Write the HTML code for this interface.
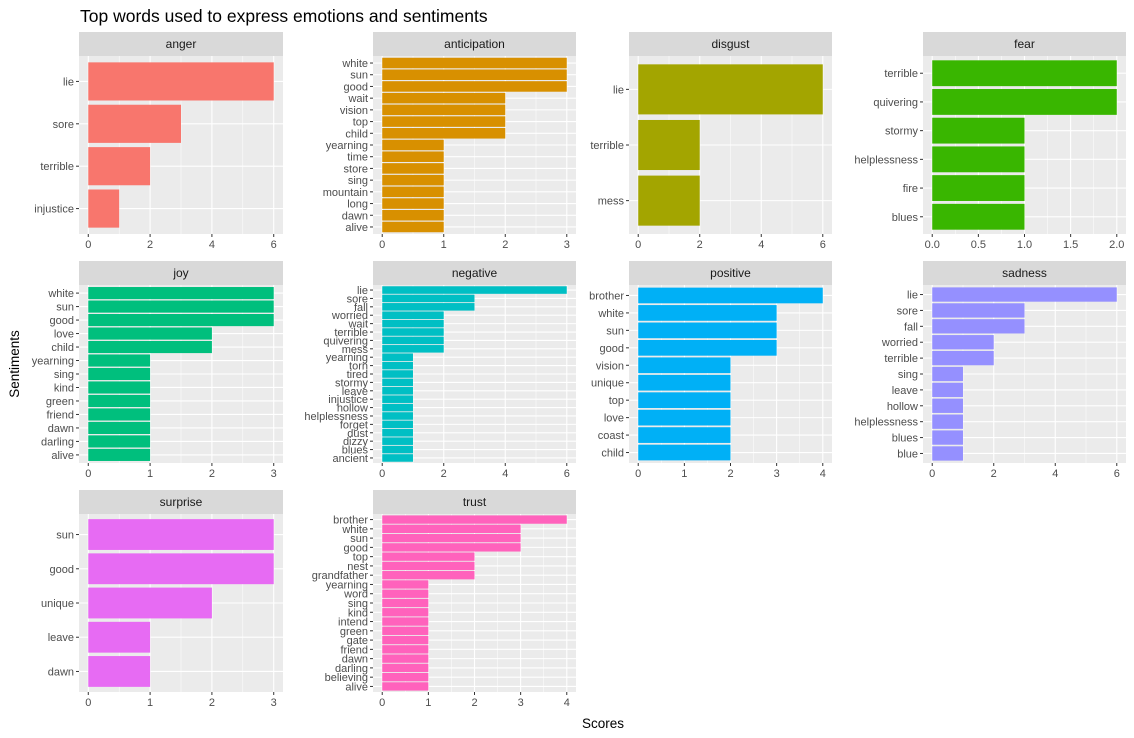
<!DOCTYPE html>
<html><head><meta charset="utf-8"><style>body{margin:0;background:#fff}svg{display:block;font-family:"Liberation Sans",Arial,sans-serif}</style></head>
<body>
<svg id="chart" width="1134" height="738"></svg>
<script>
const facets=["anger","anticipation","disgust","fear","joy","negative","positive","sadness","surprise","trust"];
const colors=["#F8766D","#D89000","#A3A500","#39B600","#00BF7D","#00BFC4","#00B0F6","#9590FF","#E76BF3","#FF62BC"];
const wordsAnger=["lie","sore","terrible","injustice"];
const valsAnger=[6,3,2,1];
const wordsAnticipation=["white","sun","good","wait","vision","top","child","yearning","time","store","sing","mountain","long","dawn","alive"];
const valsAnticipation=[3,3,3,2,2,2,2,1,1,1,1,1,1,1,1];
const wordsDisgust=["lie","terrible","mess"];
const valsDisgust=[6,2,2];
const wordsFear=["terrible","quivering","stormy","helplessness","fire","blues"];
const valsFear=[2,2,1,1,1,1];
const wordsJoy=["white","sun","good","love","child","yearning","sing","kind","green","friend","dawn","darling","alive"];
const valsJoy=[3,3,3,2,2,1,1,1,1,1,1,1,1];
const wordsNegative=["lie","sore","fall","worried","wait","terrible","quivering","mess","yearning","torn","tired","stormy","leave","injustice","hollow","helplessness","forget","dust","dizzy","blues","ancient"];
const valsNegative=[6,3,3,2,2,2,2,2,1,1,1,1,1,1,1,1,1,1,1,1,1];
const wordsPositive=["brother","white","sun","good","vision","unique","top","love","coast","child"];
const valsPositive=[4,3,3,3,2,2,2,2,2,2];
const wordsSadness=["lie","sore","fall","worried","terrible","sing","leave","hollow","helplessness","blues","blue"];
const valsSadness=[6,3,3,2,2,1,1,1,1,1,1];
const wordsSurprise=["sun","good","unique","leave","dawn"];
const valsSurprise=[3,3,2,1,1];
const wordsTrust=["brother","white","sun","good","top","nest","grandfather","yearning","word","sing","kind","intend","green","gate","friend","dawn","darling","believing","alive"];
const valsTrust=[4,3,3,3,2,2,2,1,1,1,1,1,1,1,1,1,1,1,1];
const allWords=[wordsAnger,wordsAnticipation,wordsDisgust,wordsFear,wordsJoy,wordsNegative,wordsPositive,wordsSadness,wordsSurprise,wordsTrust];
const allVals=[valsAnger,valsAnticipation,valsDisgust,valsFear,valsJoy,valsNegative,valsPositive,valsSadness,valsSurprise,valsTrust];
const tickSteps=[2,1,2,0.5,1,2,1,2,1,1];

const NS="http://www.w3.org/2000/svg";
const svg=document.getElementById("chart");
function mk(tag,attrs,parent){const e=document.createElementNS(NS,tag);for(const k in attrs)e.setAttribute(k,attrs[k]);(parent||svg).appendChild(e);return e;}
const colX=[79,373,629,923],colW=[204,203,203,203];
const rowY=[32,261,490],stripH=24,panelH=178;

let t=mk("text",{x:80,y:22,"font-size":17.5,fill:"#000"});t.textContent="Top words used to express emotions and sentiments";


t=mk("text",{x:603,y:728,"font-size":13.5,fill:"#000","text-anchor":"middle"});t.textContent="Scores";


t=mk("text",{x:0,y:0,"font-size":13.5,fill:"#000","text-anchor":"middle",transform:"translate(19,364) rotate(-90)"});t.textContent="Sentiments";



facets.forEach((f,i)=>{
  const c=i%4,r=Math.floor(i/4);
  const x0=colX[c],w=colW[c],ys=rowY[r],py=ys+stripH;
  const words=allWords[i],vals=allVals[i],step=tickSteps[i];
  const g=mk("g",{});
  
  
  const strip=mk("rect",{x:x0,y:ys,width:w,height:stripH,fill:"#D9D9D9"},g);
  
  
  const st=mk("text",{x:x0+w/2,y:ys+16,"font-size":12,fill:"#1A1A1A","text-anchor":"middle"},g);st.textContent=f;
  
  
  mk("rect",{x:x0,y:py,width:w,height:panelH,fill:"#EBEBEB"},g);
  const mx=Math.max(...vals),pad=mx*0.05;
  const xs=v=>x0+(v+pad)/(mx+2*pad)*w;
  const n=words.length,unit=panelH/(n+0.2);
  const yc=k=>py+(0.6+k)*unit;
  for(let v=step/2;v<=mx+pad;v+=step) mk("line",{x1:xs(v),x2:xs(v),y1:py,y2:py+panelH,stroke:"#fff","stroke-width":0.5},g);
  for(let v=0;v<=mx+1e-9;v+=step){
    mk("line",{x1:xs(v),x2:xs(v),y1:py,y2:py+panelH,stroke:"#fff","stroke-width":1.1},g);
    mk("line",{x1:xs(v),x2:xs(v),y1:py+panelH,y2:py+panelH+3,stroke:"#333","stroke-width":1},g);
    const tl=mk("text",{x:xs(v),y:py+panelH+14,"font-size":11,fill:"#4D4D4D","text-anchor":"middle"},g);
    tl.textContent=step<1?v.toFixed(1):String(v);
    
    
  }
  words.forEach((wd,k)=>{
    mk("line",{x1:x0,x2:x0+w,y1:yc(k),y2:yc(k),stroke:"#fff","stroke-width":1.1},g);
  });
  words.forEach((wd,k)=>{
    const b=mk("rect",{x:xs(0),y:yc(k)-0.45*unit,width:xs(vals[k])-xs(0),height:0.9*unit,fill:colors[i]},g);
    
    
    mk("line",{x1:x0-3,x2:x0,y1:yc(k),y2:yc(k),stroke:"#333","stroke-width":1},g);
    const yl=mk("text",{x:x0-5,y:yc(k)+4,"font-size":11,fill:"#4D4D4D","text-anchor":"end"},g);yl.textContent=wd;
    
    
  });
});
</script>
</body></html>
